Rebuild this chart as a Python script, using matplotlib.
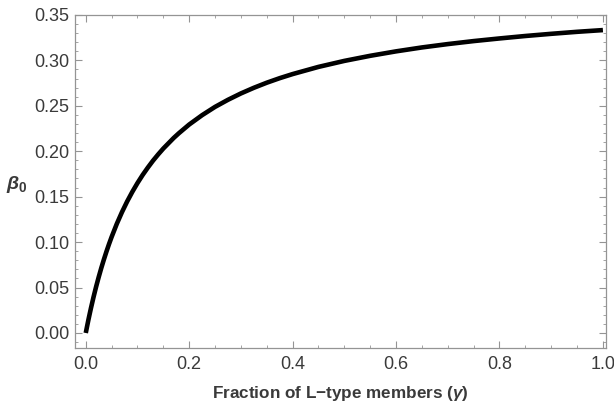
import matplotlib
matplotlib.use("Agg")
import matplotlib.pyplot as plt
import matplotlib.ticker as mticker

# values
gamma = [0.0, 0.0025, 0.005, 0.0075, 0.01, 0.015, 0.02, 0.025, 0.03, 0.035,
         0.04, 0.045, 0.05, 0.06, 0.07, 0.08, 0.09, 0.10, 0.11, 0.12, 0.13,
         0.14, 0.15, 0.17, 0.18, 0.20, 0.225, 0.25, 0.275, 0.30, 0.325, 0.35,
         0.375, 0.40, 0.45, 0.50, 0.55, 0.60, 0.65, 0.70, 0.75, 0.80, 0.85,
         0.90, 0.95, 1.00]
beta0 = [0.0, 0.0072, 0.0142, 0.0208, 0.0273, 0.0395, 0.0509, 0.0615, 0.0715,
         0.0808, 0.0896, 0.0979, 0.1057, 0.1201, 0.1330, 0.1447, 0.1553,
         0.1650, 0.1739, 0.1820, 0.1896, 0.1965, 0.2030, 0.2146, 0.2198,
         0.2294, 0.2397, 0.2488, 0.2566, 0.2636, 0.2698, 0.2754, 0.2804,
         0.2849, 0.2928, 0.2994, 0.3050, 0.3099, 0.3142, 0.3179, 0.3212,
         0.3241, 0.3268, 0.3292, 0.3314, 0.3333]

x_ticks = [0.0, 0.2, 0.4, 0.6, 0.8, 1.0]
y_ticks = [0.00, 0.05, 0.10, 0.15, 0.20, 0.25, 0.30, 0.35]

plt.rcParams["font.family"] = ["Liberation Sans", "DejaVu Sans"]
plt.rcParams["mathtext.fontset"] = "custom"
plt.rcParams["mathtext.it"] = "Liberation Sans:italic:bold"
plt.rcParams["mathtext.rm"] = "Liberation Sans:bold"
plt.rcParams["mathtext.bf"] = "Liberation Sans:bold"

frame_col = "#949494"
text_col = "#3a3a3a"

fig = plt.figure(figsize=(6.14, 4.03), dpi=100)
ax = fig.add_axes([0.122, 0.1365, 0.865, 0.8265])

ax.plot(gamma, beta0, color="black", linewidth=3.3, solid_capstyle="butt",
        solid_joinstyle="round")

ax.set_xlim(-0.021, 1.006)
ax.set_ylim(-0.0165, 0.35)
ax.set_xticks(x_ticks)
ax.set_yticks(y_ticks)
ax.xaxis.set_major_formatter(mticker.FormatStrFormatter("%.1f"))
ax.yaxis.set_major_formatter(mticker.FormatStrFormatter("%.2f"))
ax.xaxis.set_minor_locator(mticker.MultipleLocator(0.05))
ax.yaxis.set_minor_locator(mticker.MultipleLocator(0.01))

ax.tick_params(which="both", direction="in", top=True, right=True,
               color=frame_col, labelcolor=text_col, labelsize=13)
ax.tick_params(which="major", length=5, width=0.8)
ax.tick_params(which="minor", length=2.5, width=0.6)
ax.tick_params(axis="x", pad=6)
ax.tick_params(axis="y", pad=4)
for s in ax.spines.values():
    s.set_color(frame_col)
    s.set_linewidth(0.9)

ax.set_xlabel(r"Fraction of L$-$type members ($\gamma$)", fontsize=12.3,
              fontweight="bold", color=text_col, labelpad=8)
ax.set_ylabel(r"$\beta_\mathrm{0}$", fontsize=14, color=text_col,
              rotation=0, va="center", ha="center")
ax.yaxis.set_label_coords(-0.109, 0.49)

fig.savefig("out.png", dpi=100)
